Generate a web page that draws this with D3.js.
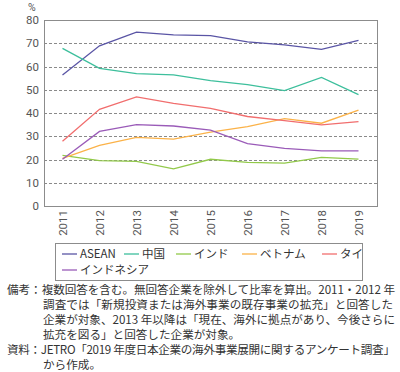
<!DOCTYPE html>
<html>
<head>
<meta charset="utf-8">
<script src="https://cdn.jsdelivr.net/npm/d3@7"></script>
<style>
  body { margin: 0; background: #fff; }
  svg text { font-family: "Noto Sans CJK JP", "Noto Sans", sans-serif; fill: #444; }
  svg text.num { font-family: Roboto, "Noto Sans", sans-serif; }
</style>
</head>
<body>
<div id="chart"></div>
<script>
var years = ["2011", "2012", "2013", "2014", "2015", "2016", "2017", "2018", "2019"];
var yTicks = [0, 10, 20, 30, 40, 50, 60, 70, 80];

var asean     = [56.3, 68.9, 74.8, 73.6, 73.3, 70.6, 69.3, 67.4, 71.2];
var china     = [67.8, 59.2, 56.9, 56.4, 53.9, 52.2, 49.6, 55.3, 47.9];
var india     = [21.8, 19.5, 19.2, 16.0, 20.1, 18.8, 18.4, 20.9, 20.2];
var vietnam   = [20.5, 26.1, 29.5, 28.8, 31.8, 34.1, 37.6, 35.6, 41.2];
var thailand  = [27.8, 41.6, 46.9, 44.1, 42.0, 38.5, 36.7, 34.9, 36.3];
var indonesia = [20.1, 32.1, 35.0, 34.4, 32.6, 26.8, 24.8, 23.7, 23.7];

var names  = ["ASEAN", "中国", "インド", "ベトナム", "タイ", "インドネシア"];
var colors = ["#5a55a5", "#3dbf9c", "#92c94a", "#fbb248", "#f16e6e", "#9a5bb8"];

var notes = [
  "備考：複数回答を含む。無回答企業を除外して比率を算出。2011・2012 年",
  "調査では「新規投資または海外事業の既存事業の拡充」と回答した",
  "企業が対象、2013 年以降は「現在、海外に拠点があり、今後さらに",
  "拡充を図る」と回答した企業が対象。",
  "資料：JETRO「2019 年度日本企業の海外事業展開に関するアンケート調査」",
  "から作成。"
];

var series = [asean, china, india, vietnam, thailand, indonesia].map(function(v, i) {
  return { name: names[i], color: colors[i], values: v };
});

var width = 400, height = 372;
var plotLeft = 44, plotRight = 377, plotTop = 20, plotBottom = 206;

var svg = d3.select("#chart").append("svg")
  .attr("width", width)
  .attr("height", height);

/* Scales */
var x = d3.scalePoint().domain(years).range([plotLeft, plotRight]).padding(0.5);
var y = d3.scaleLinear().domain([0, 80]).range([plotBottom, plotTop]);

/* Grid lines */
svg.append("g")
  .selectAll("line")
  .data(yTicks.filter(d => d > 0 && d < 80)).enter()
  .append("line")
  .attr("x1", plotLeft).attr("x2", plotRight)
  .attr("y1", d => Math.round(y(d)) + 0.5).attr("y2", d => Math.round(y(d)) + 0.5)
  .attr("stroke", "#8a8a8a")
  .attr("stroke-width", 1)
  .attr("stroke-dasharray", "3,2");

/* Frame */
svg.append("rect")
  .attr("x", plotLeft + 0.5).attr("y", plotTop + 0.5)
  .attr("width", plotRight - plotLeft).attr("height", plotBottom - plotTop)
  .attr("fill", "none")
  .attr("stroke", "#8c8c8c")
  .attr("stroke-width", 1);

/* Axes */
var yAxis = d3.axisLeft(y).tickValues(yTicks).tickSize(0).tickPadding(5);
svg.append("g")
  .attr("transform", `translate(${plotLeft},0)`)
  .call(yAxis)
  .call(g => g.select(".domain").remove())
  .selectAll("text")
  .attr("class", "num")
  .style("font-size", "11.5px")
  .style("fill", "#555");

var xAxis = d3.axisBottom(x).tickSize(0);
svg.append("g")
  .attr("transform", `translate(0,${plotBottom})`)
  .call(xAxis)
  .call(g => g.select(".domain").remove())
  .selectAll("text")
  .attr("class", "num")
  .style("font-size", "11.5px")
  .style("fill", "#555")
  .attr("text-anchor", "end")
  .attr("transform", "rotate(-90)")
  .attr("x", -4)
  .attr("y", 0)
  .attr("dy", "0.35em");

svg.append("text")
  .attr("class", "num")
  .attr("x", 28).attr("y", 10.5)
  .style("font-size", "10.5px")
  .style("fill", "#555")
  .text("%");

/* Lines */
var line = d3.line()
  .x((d, i) => x(years[i]))
  .y(d => y(d));

svg.append("g")
  .selectAll("path")
  .data(series).enter()
  .append("path")
  .attr("d", d => line(d.values))
  .attr("fill", "none")
  .attr("stroke", d => d.color)
  .attr("stroke-width", 1.3);

/* Legend */
svg.append("rect")
  .attr("x", 55.5).attr("y", 243.5)
  .attr("width", 307).attr("height", 37)
  .attr("fill", "none")
  .attr("stroke", "#8c8c8c");

var legendPos = [[62, 254], [124, 254], [176, 254], [242, 254], [322, 254], [62, 270]];
var lg = svg.append("g")
  .selectAll("g")
  .data(series).enter()
  .append("g")
  .attr("transform", (d, i) => `translate(${legendPos[i][0]},${legendPos[i][1]})`);
lg.append("line")
  .attr("x1", 0).attr("x2", 15)
  .attr("stroke", d => d.color)
  .attr("stroke-width", 1.3);
lg.append("text")
  .attr("x", 18).attr("dy", "0.35em")
  .style("font-size", "11.5px")
  .style("fill", "#333")
  .text(d => d.name);

/* Notes */
var noteX = [7, 43, 43, 43, 7, 43];
var noteEnd = [395, 393, 395, null, 395, null];
svg.append("g")
  .selectAll("text")
  .data(notes).enter()
  .append("text")
  .attr("x", (d, i) => noteX[i])
  .attr("y", (d, i) => 294 + i * 15)
  .style("font-size", "11.6px")
  .style("fill", "#333")
  .each(function(d, i) {
    if (noteEnd[i]) {
      d3.select(this)
        .attr("textLength", noteEnd[i] - noteX[i])
        .attr("lengthAdjust", "spacing");
    }
  })
  .text(d => d);
</script>
</body>
</html>
